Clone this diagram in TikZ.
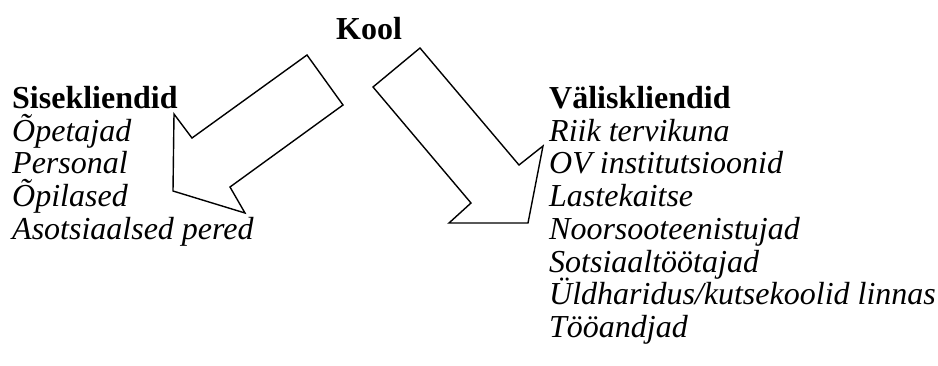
\documentclass[tikz,border=0pt]{standalone}
\usepackage{fontspec}
\setmainfont{Liberation Serif}
\begin{document}
\begin{tikzpicture}[x=1pt,y=-1pt,
  lbl/.style={anchor=base west,inner sep=0pt,font=\fontsize{32}{32}\selectfont\itshape},
  hdr/.style={anchor=base west,inner sep=0pt,font=\fontsize{32}{32}\selectfont\bfseries},
  bigarrow/.style={draw=black,line width=1.4pt,fill=white,line join=miter}]
\useasboundingbox (0,0) rectangle (938,365);
\node[hdr,anchor=base] (kool) at (369,39) {Kool};
% left arrow
\draw[bigarrow] (307,55) -- (343,105) -- (230,187) -- (245,213) -- (173,191) -- (174,114) -- (192,138) -- cycle;
% right arrow
\draw[bigarrow] (420,48) -- (373,87) -- (471,203) -- (449,223) -- (528,223) -- (543,146) -- (519,165) -- cycle;
% left column
\node[hdr] (sise) at (12,108.5) {Sisekliendid};
\node[lbl] (l1) at (12,141.2) {Õpetajad};
\node[lbl] (l2) at (12,173.9) {Personal};
\node[lbl] (l3) at (12,206.6) {Õpilased};
\node[lbl] (l4) at (12,239.3) {Asotsiaalsed pered};
% right column
\node[hdr] (valis) at (549,108.5) {Väliskliendid};
\node[lbl] (r1) at (549,141.2) {Riik tervikuna};
\node[lbl] (r2) at (549,173.9) {OV institutsioonid};
\node[lbl] (r3) at (549,206.6) {Lastekaitse};
\node[lbl] (r4) at (549,239.3) {Noorsooteenistujad};
\node[lbl] (r5) at (549,272) {Sotsiaaltöötajad};
\node[lbl] (r6) at (549,304.7) {Üldharidus/kutsekoolid linnas};
\node[lbl] (r7) at (549,337.4) {Tööandjad};
\end{tikzpicture}
\end{document}
